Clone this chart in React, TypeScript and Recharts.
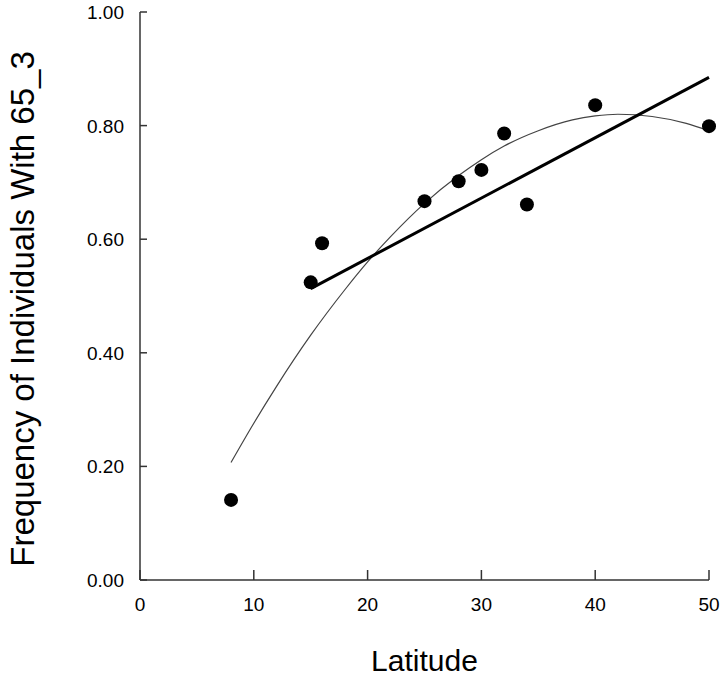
// Frequency of 65_3 vs latitude: observed points, linear fit and quadratic fit curve.
import { ComposedChart, Line, Scatter, XAxis, YAxis, Label } from "recharts";

const latitude = [8, 15, 16, 25, 28, 30, 32, 34, 40, 50];
const frequency = [0.141, 0.524, 0.593, 0.667, 0.702, 0.722, 0.786, 0.661, 0.836, 0.799];

const linearX = [15, 50];
const linearY = [0.513, 0.885];

const curveX = [8, 10, 12, 15, 18, 20, 22, 25, 28, 30, 32, 35, 38, 40, 42, 45, 48, 50];
const curveY = [0.207, 0.276, 0.341, 0.431, 0.511, 0.56, 0.604, 0.663, 0.712, 0.74, 0.764, 0.791, 0.81, 0.817, 0.82, 0.816, 0.804, 0.791];

const xTicks = [0, 10, 20, 30, 40, 50];
const yTicks = [0, 0.2, 0.4, 0.6, 0.8, 1.0];

const points = latitude.map((x, i) => ({ x, y: frequency[i] }));
const linear = linearX.map((x, i) => ({ x, y: linearY[i] }));
const curve = curveX.map((x, i) => ({ x, y: curveY[i] }));

const FONT = "'Liberation Sans', Arial, Helvetica, sans-serif";

const YTitle = ({ viewBox }: any) => {
  const cx = viewBox.x + 22;
  const cy = viewBox.y + viewBox.height / 2 + 13;
  return (
    <text x={cx} y={cy} transform={`rotate(-90, ${cx}, ${cy})`} textAnchor="middle" dominantBaseline="central"
      fontSize={33} fontFamily={FONT} fill="#000">
      Frequency of Individuals With 65_3
    </text>
  );
};

const XTick = ({ x, y, payload }: any) => (
  <text x={x} y={y} dy={14} textAnchor="middle" fontSize={19} fontFamily={FONT} fill="#000">{payload.value}</text>
);

const YTick = ({ x, y, payload }: any) => (
  <text x={x} y={y} dy={7} textAnchor="end" fontSize={19} fontFamily={FONT} fill="#000">{Number(payload.value).toFixed(2)}</text>
);

export default function App() {
  return (
    <div style={{ position: "absolute", left: 0, top: 0, background: "#fff" }}>
      <ComposedChart width={721} height={677} margin={{ top: 12, right: 12, bottom: 0, left: 0 }}>
        <XAxis type="number" dataKey="x" domain={[0, 50]} ticks={xTicks} height={97}
          stroke="#333" strokeWidth={1.5} tickSize={-10} tickMargin={27} fontSize={19}
          tick={<XTick />}>
          <Label value="Latitude" position="insideBottom" offset={6} fontSize={30} fontFamily={FONT} fill="#000" />
        </XAxis>
        <YAxis type="number" dataKey="y" domain={[0, 1]} ticks={yTicks} width={140}
          stroke="#333" strokeWidth={1.5} tickSize={-7} tickMargin={23} fontSize={19}
          tick={<YTick />}>
          <Label content={<YTitle />} />
        </YAxis>
        <Line data={curve} dataKey="y" type="monotone" stroke="#444" strokeWidth={1.2} dot={false} isAnimationActive={false} />
        <Line data={linear} dataKey="y" type="linear" stroke="#000" strokeWidth={3} dot={false} isAnimationActive={false} />
        <Scatter data={points} dataKey="y" fill="#000" isAnimationActive={false}
          shape={(p: any) => <circle cx={p.cx} cy={p.cy} r={7} fill="#000" />} />
      </ComposedChart>
    </div>
  );
}
